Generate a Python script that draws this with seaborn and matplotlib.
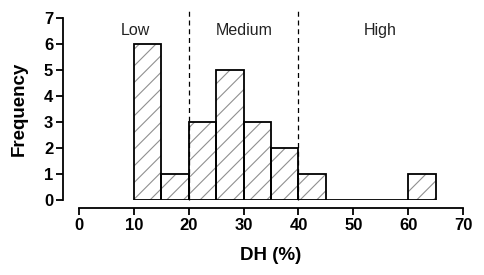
import numpy as np
import pandas as pd
import matplotlib
matplotlib.use("Agg")
import matplotlib.pyplot as plt
import seaborn as sns

# histogram values (bin width 5)
bin_edges = [10, 15, 20, 25, 30, 35, 40, 45, 50, 55, 60, 65]
bin_left = [10, 15, 20, 25, 30, 35, 40, 45, 50, 55, 60]
counts = [6, 1, 3, 5, 3, 2, 1, 0, 0, 0, 1]

# category boundaries and labels
cut_points = [20, 40]
cat_labels = ["Low", "Medium", "High"]
cat_x = [10.2, 30.1, 54.9]

sns.set_style("ticks")
plt.rcParams["font.family"] = ["Liberation Sans", "DejaVu Sans"]
plt.rcParams["font.weight"] = "bold"
plt.rcParams["text.color"] = "black"
plt.rcParams["axes.labelcolor"] = "black"
plt.rcParams["hatch.linewidth"] = 0.8

df = pd.DataFrame({"DH": bin_left, "n": counts})

fig = plt.figure(figsize=(4.84, 2.75), dpi=100)
ax = fig.add_axes([0.163, 0.2727, 0.794, 0.662])

# gray hatching first, then black outlines on top
sns.histplot(data=df, x="DH", weights="n", bins=bin_edges, ax=ax,
             color="white", edgecolor="#909090", linewidth=0, alpha=1)
for p in ax.patches:
    p.set_hatch("//")
    p.set_edgecolor("#909090")
    p.set_linewidth(0)
sns.histplot(data=df, x="DH", weights="n", bins=bin_edges, ax=ax,
             fill=False, color="black", linewidth=1.3)

for c in cut_points:
    ax.plot([c, c], [0, 7.25], ls=(0, (4, 3)), color="black", lw=0.9,
            clip_on=False, zorder=3)

for lbl, x in zip(cat_labels, cat_x):
    ax.text(x, 6.5, lbl, ha="center", va="center", fontsize=11.5,
            fontweight="normal", color="#222222")

ax.set_xlim(0, 70)
ax.set_ylim(0, 7)
ax.set_xticks(range(0, 71, 10))
ax.set_yticks(range(0, 8))
ax.set_xlabel("DH (%)", fontsize=13.5, fontweight="bold", labelpad=10)
ax.set_ylabel("Frequency", fontsize=13.5, fontweight="bold", labelpad=12)
ax.tick_params(labelsize=12, width=1.3, length=5, pad=2, color="black",
               labelcolor="black")

sns.despine(ax=ax, offset={"left": 11.5, "bottom": 5.8})
for s in ["left", "bottom"]:
    ax.spines[s].set_linewidth(1.3)
    ax.spines[s].set_color("black")

fig.savefig("out.png", dpi=100)
